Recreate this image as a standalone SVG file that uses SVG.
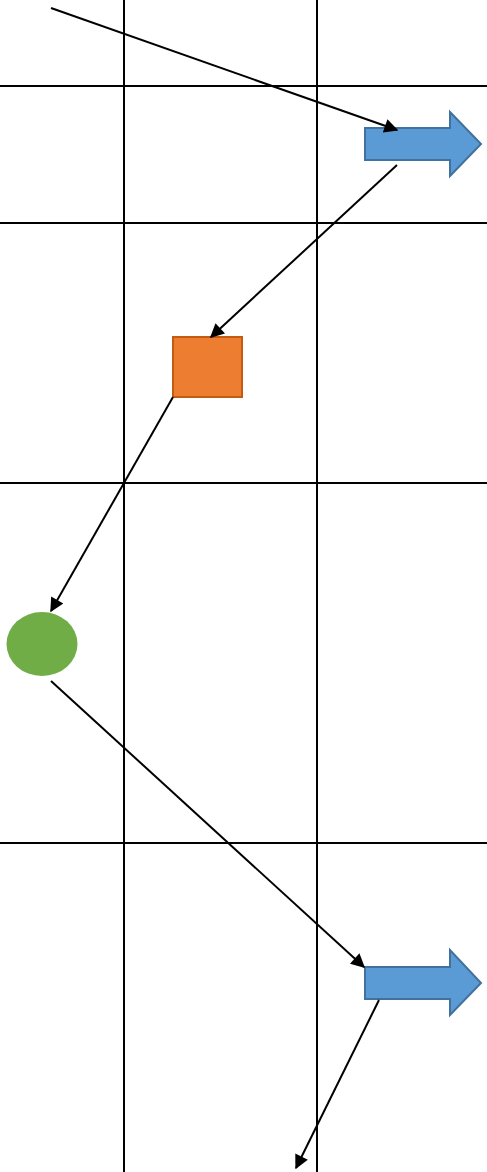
<svg xmlns="http://www.w3.org/2000/svg" width="487" height="1172" viewBox="0 0 487 1172">
<style>
.grid{stroke:#000;stroke-width:2;fill:none}
.conn{stroke:#000;stroke-width:2;fill:none;marker-end:url(#ah)}
.blue{fill:#5b9bd5;stroke:#41719c;stroke-width:2}
</style>
<defs>
<marker id="ah" viewBox="0 0 10 10" refX="9" refY="5" markerWidth="8" markerHeight="7" markerUnits="strokeWidth" orient="auto">
<path d="M0,0 L10,5 L0,10 z" fill="#000"/>
</marker>
</defs>
<rect width="487" height="1172" fill="#fff"/>
<g id="grid">
<line class="grid" x1="124" y1="0" x2="124" y2="1172"/>
<line class="grid" x1="317" y1="0" x2="317" y2="1172"/>
<line class="grid" x1="0" y1="86" x2="487" y2="86"/>
<line class="grid" x1="0" y1="223" x2="487" y2="223"/>
<line class="grid" x1="0" y1="483" x2="487" y2="483"/>
<line class="grid" x1="0" y1="843" x2="487" y2="843"/>
</g>
<g id="arrow1">
<path class="blue" d="M365,128 L450,128 L450,112 L481,144 L450,176 L450,160 L365,160 z"/>
</g>
<g id="square">
<rect x="173" y="337" width="69" height="60" fill="#ed7d31" stroke="#c55a11" stroke-width="2"/>
</g>
<g id="circle">
<ellipse cx="42" cy="644" rx="35.5" ry="32" fill="#70ad47"/>
</g>
<g id="arrow2">
<path class="blue" d="M365,967 L450,967 L450,950 L481,983 L450,1015 L450,999 L365,999 z"/>
</g>
<g id="connectors">
<line class="conn" x1="51" y1="8" x2="397" y2="130"/>
<line class="conn" x1="397" y1="165" x2="211" y2="337"/>
<line class="conn" x1="173" y1="397" x2="51" y2="611"/>
<line class="conn" x1="51" y1="681" x2="364" y2="967"/>
<line class="conn" x1="379" y1="1000" x2="296" y2="1168"/>
</g>
</svg>
